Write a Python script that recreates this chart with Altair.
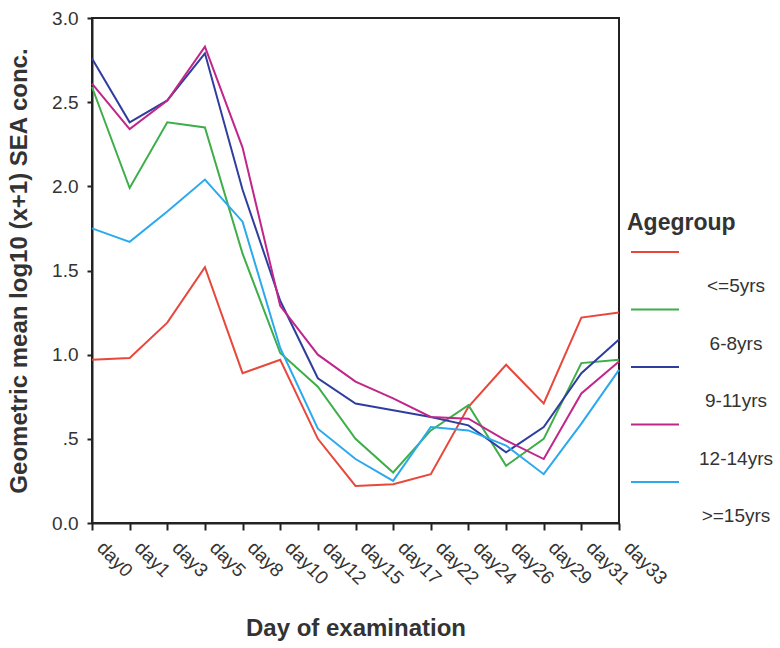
import altair as alt
import pandas as pd

days = ["day0", "day1", "day3", "day5", "day8", "day10", "day12", "day15",
        "day17", "day22", "day24", "day26", "day29", "day31", "day33"]
groups = ["<=5yrs", "6-8yrs", "9-11yrs", "12-14yrs", ">=15yrs"]
colors = ["#E8473B", "#3DAE49", "#2F3E9E", "#C1268A", "#2BA9EE"]

le5 = [0.97, 0.98, 1.19, 1.52, 0.89, 0.97, 0.50, 0.22, 0.23, 0.29, 0.69, 0.94, 0.71, 1.22, 1.25]
g6_8 = [2.59, 1.99, 2.38, 2.35, 1.60, 1.01, 0.81, 0.50, 0.30, 0.55, 0.70, 0.34, 0.50, 0.95, 0.97]
g9_11 = [2.76, 2.38, 2.51, 2.79, 1.98, 1.32, 0.86, 0.71, 0.67, 0.63, 0.58, 0.42, 0.57, 0.89, 1.09]
g12_14 = [2.61, 2.34, 2.51, 2.83, 2.23, 1.29, 1.00, 0.84, 0.74, 0.63, 0.62, 0.49, 0.38, 0.77, 0.96]
ge15 = [1.75, 1.67, 1.85, 2.04, 1.79, 1.04, 0.56, 0.38, 0.25, 0.57, 0.55, 0.46, 0.29, 0.59, 0.91]

y_ticks = [0, 0.5, 1.0, 1.5, 2.0, 2.5, 3.0]
legend_title = "Agegroup"
x_title = "Day of examination"
y_title = "Geometric mean log10 (x+1) SEA conc."

series = [le5, g6_8, g9_11, g12_14, ge15]
rows = []
for g, vals in zip(groups, series):
    for d, v in zip(days, vals):
        rows.append({"day": d, "group": g, "value": v})
df = pd.DataFrame(rows)
legend_df = pd.DataFrame({"group": groups})
title_df = pd.DataFrame({"t": [legend_title]})

FONT = "Liberation Sans"
TXT = "#333333"

color = alt.Color("group:N", scale=alt.Scale(domain=groups, range=colors), legend=None)

lines = alt.Chart(df).mark_line(strokeWidth=2).encode(
    x=alt.X("day:N", sort=days, scale=alt.Scale(type="point", padding=0),
            axis=alt.Axis(title=x_title, labelAngle=45, tickSize=7, labelPadding=8,
                          labelOffset=14, labelFontSize=19, titleFontSize=24,
                          titlePadding=28)),
    y=alt.Y("value:Q", scale=alt.Scale(domain=[0, 3], nice=False),
            axis=alt.Axis(title=y_title, values=y_ticks, tickSize=5, labelPadding=9,
                          labelFontSize=19, titleFontSize=24, titlePadding=20,
                          labelExpr="datum.value == 0.5 ? '.5' : format(datum.value, '.1f')")),
    color=color,
)

leg_y = alt.Y("group:N", sort=groups,
              scale=alt.Scale(type="point", domain=groups, range=[234, 464], padding=0),
              axis=None)

leg_rules = alt.Chart(legend_df).mark_rule(strokeWidth=2).encode(
    x=alt.value(539), x2=alt.value(587), y=leg_y, color=color)

leg_text = alt.Chart(legend_df).mark_text(
    dy=34, fontSize=19, color=TXT, font=FONT, align="center", baseline="middle"
).encode(x=alt.value(644), y=leg_y, text="group:N")

leg_title = alt.Chart(title_df).mark_text(
    fontSize=23, fontWeight="bold", color=TXT, font=FONT, align="left", baseline="middle"
).encode(x=alt.value(535), y=alt.value(205), text="t:N")

chart = alt.layer(lines, leg_rules, leg_text, leg_title).resolve_scale(
    y="independent"
).properties(
    width=527, height=505,
    padding={"left": 92, "top": 18, "right": 161, "bottom": 125},
    autosize=alt.AutoSizeParams(type="none"),
    background="white",
).configure_view(
    stroke="#222222", strokeWidth=2
).configure_axis(
    grid=False, domainColor="#222222", domainWidth=2, tickColor="#222222", tickWidth=2,
    labelColor=TXT, titleColor=TXT, labelFont=FONT, titleFont=FONT, titleFontWeight="bold",
)

chart.save("out.html", embed_options={"renderer": "svg", "actions": False})
